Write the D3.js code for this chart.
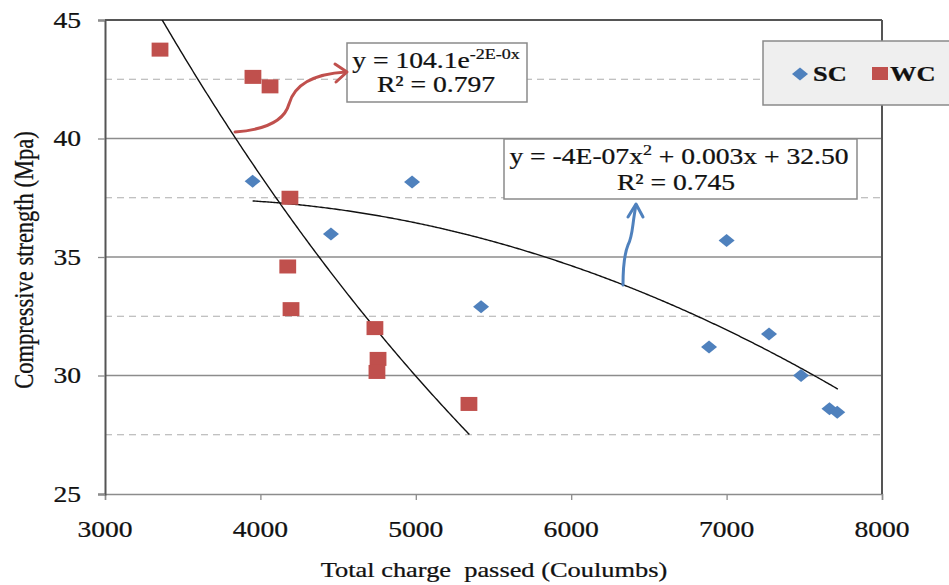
<!DOCTYPE html>
<html><head><meta charset="utf-8">
<script src="https://cdn.jsdelivr.net/npm/d3@7"></script>
<style>
body{margin:0;background:#fff;}
text{font-family:"Liberation Serif","Times New Roman",serif;fill:#111;stroke:#111;stroke-width:0.25px;white-space:pre;}
</style></head>
<body><svg id="chart" width="949" height="585"></svg>
<script>
// ---- data ----
const scX = [3950, 4976, 4454, 5420, 6887, 7000, 7273, 7479, 7662, 7712];
const scY = [38.2, 38.16, 35.97, 32.9, 31.2, 35.7, 31.75, 30.0, 28.6, 28.45];
const wcX = [3354, 3952, 4062, 4190, 4176, 4197, 4737, 4757, 4750, 5342];
const wcY = [43.75, 42.6, 42.2, 37.5, 34.6, 32.8, 32.0, 30.7, 30.15, 28.8];
const xTicks = [3000, 4000, 5000, 6000, 7000, 8000];
const yTicks = [25, 30, 35, 40, 45];
const yDashed = [27.5, 32.5, 37.5, 42.5];
const seriesNames = ["SC", "WC"];
const seriesColors = ["#4F81BD", "#C0504D"];
// trend line coefficients (as drawn)
const expA = 104.1, expB = 2.49e-4;          // WC: y = a e^{-bx}
const polyA = -4.518e-7, polyB = 0.003163, polyC = 31.92; // SC: quadratic

const SX = 1.2; // horizontal text stretch
const svg = d3.select("#chart");
const L = 105, R = 882, T = 20, B = 494;
const x = d3.scaleLinear().domain([3000, 8000]).range([L, R]);
const y = d3.scaleLinear().domain([25, 45]).range([B, T]);

function txt(g, px, py, s, opts = {}) {
  const t = g.append("text")
    .attr("transform", `translate(${px},${py}) scale(${SX},1)` + (opts.rot ? ` rotate(${opts.rot})` : ""))
    .attr("text-anchor", opts.anchor || "start")
    .attr("font-size", opts.size || 23)
    .attr("xml:space", "preserve")
    .text(s);
  if (opts.weight) t.attr("font-weight", opts.weight);
  if (opts.dy) t.attr("dy", opts.dy);
  return t;
}

// grid
svg.append("g").selectAll("line.d").data(yDashed).join("line")
  .attr("x1", L).attr("x2", R).attr("y1", d => y(d)).attr("y2", d => y(d))
  .attr("stroke", "#adadad").attr("stroke-width", 1.2).attr("stroke-dasharray", "7,5");
svg.append("g").selectAll("line.s").data(yTicks.filter(d => d > 25 && d < 45)).join("line")
  .attr("x1", L).attr("x2", R).attr("y1", d => y(d)).attr("y2", d => y(d))
  .attr("stroke", "#8c8c8c").attr("stroke-width", 1.3);

// axes
const xAxis = svg.append("g").attr("transform", `translate(0,${B})`)
  .call(d3.axisBottom(x).tickValues(xTicks).tickSize(6).tickFormat(""));
xAxis.select(".domain").attr("stroke", "#8c8c8c").attr("stroke-width", 1.5);
xAxis.selectAll(".tick line").attr("stroke", "#8c8c8c").attr("stroke-width", 1.3);
const yAxis = svg.append("g").attr("transform", `translate(${L},0)`)
  .call(d3.axisLeft(y).tickValues(yTicks).tickSize(7).tickFormat(""));
yAxis.select(".domain").attr("stroke", "#555").attr("stroke-width", 2);
yAxis.selectAll(".tick line").attr("stroke", "#8c8c8c").attr("stroke-width", 1.3);
// top & right border
svg.append("line").attr("x1", L).attr("x2", R).attr("y1", T).attr("y2", T).attr("stroke", "#555").attr("stroke-width", 2);
svg.append("line").attr("x1", R).attr("x2", R).attr("y1", T).attr("y2", B).attr("stroke", "#555").attr("stroke-width", 2);

// tick labels
const tl = svg.append("g");
xTicks.forEach(v => txt(tl, x(v), 537, String(v), {anchor: "middle"}));
yTicks.forEach(v => txt(tl, 81, y(v), String(v), {anchor: "end", dy: "0.34em"}));

// axis titles
txt(svg, 494, 577, "Total charge  passed (Coulumbs)", {anchor: "middle", size: 22});
txt(svg, 33, 260, "Compressive strength (Mpa)", {anchor: "middle", rot: -90, size: 22.5});

// clip
svg.append("clipPath").attr("id", "pc").append("rect").attr("x", L).attr("y", T).attr("width", R - L).attr("height", B - T);

// trend lines
const line = d3.line().x(d => x(d[0])).y(d => y(d[1]));
const expPts = d3.range(3355, 5351, 10).map(v => [v, expA * Math.exp(-expB * v)]);
svg.append("path").attr("clip-path", "url(#pc)").attr("d", line(expPts))
  .attr("fill", "none").attr("stroke", "#111").attr("stroke-width", 1.4);
const polyPts = d3.range(3950, 7717, 10).concat([7716]).map(v => [v, polyA * v * v + polyB * v + polyC]);
svg.append("path").attr("d", line(polyPts))
  .attr("fill", "none").attr("stroke", "#111").attr("stroke-width", 1.4);

// markers
const sc = scX.map((v, i) => [v, scY[i]]);
const wc = wcX.map((v, i) => [v, wcY[i]]);
svg.append("g").selectAll("rect").data(wc).join("rect")
  .attr("x", d => x(d[0]) - 8.4).attr("y", d => y(d[1]) - 7)
  .attr("width", 16.8).attr("height", 14).attr("fill", seriesColors[1]);
svg.append("g").selectAll("path").data(sc).join("path")
  .attr("d", d => { const cx = x(d[0]), cy = y(d[1]); return `M${cx - 8},${cy}L${cx},${cy - 6.5}L${cx + 8},${cy}L${cx},${cy + 6.5}Z`; })
  .attr("fill", seriesColors[0]);

// equation boxes
const b1 = svg.append("g");
b1.append("rect").attr("x", 347).attr("y", 43).attr("width", 180).attr("height", 59)
  .attr("fill", "#fff").attr("stroke", "#8a8a8a").attr("stroke-width", 1.5);
const t1 = txt(b1, 436, 68, "y = 104.1e", {anchor: "middle"});
t1.append("tspan").attr("font-size", 15).attr("dy", -9).text("-2E-0x");
txt(b1, 436, 92, "R² = 0.797", {anchor: "middle"});

const b2 = svg.append("g");
b2.append("rect").attr("x", 504).attr("y", 139).attr("width", 353).attr("height", 60)
  .attr("fill", "#fff").attr("stroke", "#8a8a8a").attr("stroke-width", 1.5);
const t2 = txt(b2, 679, 164, "y = -4E-07x", {anchor: "middle"});
t2.append("tspan").attr("font-size", 15).attr("dy", -9).text("2");
t2.append("tspan").attr("dy", 9).text(" + 0.003x + 32.50");
txt(b2, 676, 190, "R² = 0.745", {anchor: "middle"});

// arrows
svg.append("path").attr("d", "M235,132 C262,130 284,122 289,104 C294,86 312,74 346,72")
  .attr("fill", "none").attr("stroke", seriesColors[1]).attr("stroke-width", 3).attr("stroke-linecap", "round");
svg.append("path").attr("d", "M335,64 L347,72 L336,82")
  .attr("fill", "none").attr("stroke", seriesColors[1]).attr("stroke-width", 3).attr("stroke-linecap", "round").attr("stroke-linejoin", "round");
svg.append("path").attr("d", "M623,285 C623,268 624,255 628,245 C633,236 632,225 636,205")
  .attr("fill", "none").attr("stroke", seriesColors[0]).attr("stroke-width", 3).attr("stroke-linecap", "round");
svg.append("path").attr("d", "M628,217 L636,204 L643,217")
  .attr("fill", "none").attr("stroke", seriesColors[0]).attr("stroke-width", 3).attr("stroke-linecap", "round").attr("stroke-linejoin", "round");

// legend
const lg = svg.append("g");
lg.append("rect").attr("x", 763).attr("y", 41).attr("width", 200).attr("height", 64)
  .attr("fill", "#efefef").attr("stroke", "#8a8a8a").attr("stroke-width", 1.5);
lg.append("path").attr("d", "M792,74L800,67.5L808,74L800,80.5Z").attr("fill", seriesColors[0]);
txt(lg, 813, 81, seriesNames[0], {weight: "bold", size: 22});
lg.append("rect").attr("x", 872).attr("y", 67).attr("width", 16).attr("height", 13).attr("fill", seriesColors[1]);
txt(lg, 890, 81, seriesNames[1], {weight: "bold", size: 22});
</script></body></html>
